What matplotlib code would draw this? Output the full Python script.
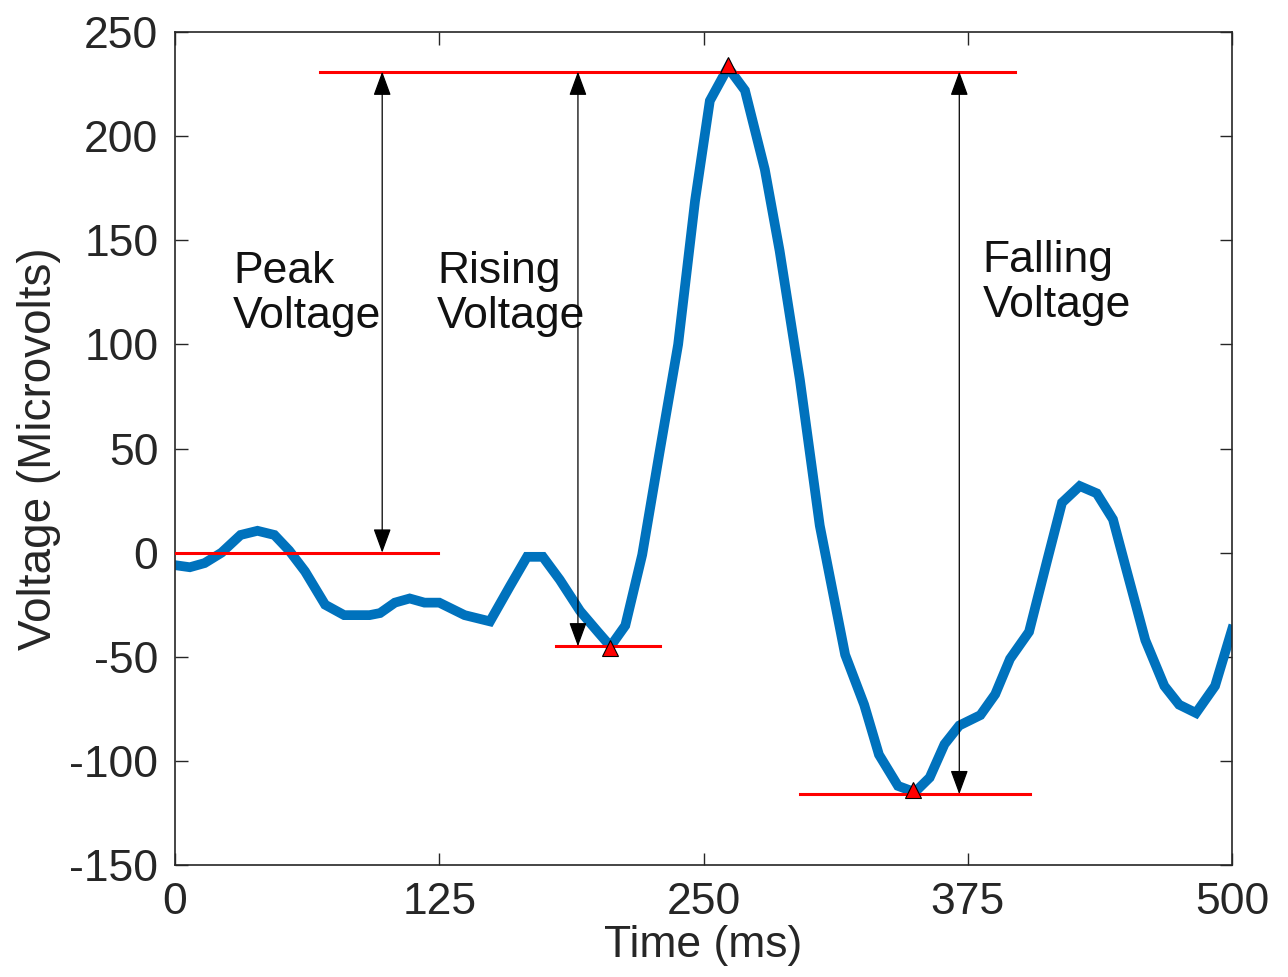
import numpy as np
import matplotlib
matplotlib.use("Agg")
from matplotlib import pyplot as plt

# waveform (time in ms, voltage in microvolts)
time_ms = [0, 7, 14, 22, 31, 39, 47, 54, 61.5, 71, 80, 92, 97, 104, 111, 118, 125,
           137, 149, 158.5, 166.5, 174, 182, 191.6, 200, 206, 213, 221, 229, 238,
           246, 253, 261.6, 269.6, 279, 286, 295.6, 305, 317, 326, 333, 342, 350,
           357, 364, 371, 381, 388, 395, 404, 412.5, 419.6, 428, 436, 443.7, 450,
           459, 468, 475, 483, 492, 500]
voltage = [-6, -7, -5, 0, 8.5, 10.5, 8.5, 1, -9, -25, -30, -30, -29, -24, -22, -24, -24,
           -30, -33, -16, -2, -2, -13, -28, -38, -45, -35, -1, 47, 100,
           169, 217, 233, 222, 184, 145, 83, 13, -49, -73, -97, -112, -115,
           -108, -92, -83, -78, -68, -51, -38, -4, 24, 32, 28.5, 16, -8,
           -42, -64, -73, -77, -64, -37]

# reference levels (x-start, x-end, level)
peak_level = 231
base_line = [0, 124.5, 0]
top_line = [68.6, 397.4, 231]
rise_line = [180, 229.4, -45]
fall_line = [295.6, 404.5, -116]

# marked extrema
mark_t = [205.8, 261.6, 349]
mark_v = [-46, 234, -114]

# arrows: x position, bottom level
arrow_x = [98, 190.6, 371]
arrow_low = [0, -45, -116]

labels = ["Peak\nVoltage", "Rising\nVoltage", "Falling\nVoltage"]
label_x = [27.4, 124, 382]
label_y = [145, 145, 150]

plt.rcParams['font.family'] = ['Liberation Sans', 'DejaVu Sans']
plt.rcParams['axes.unicode_minus'] = False

fig = plt.figure(figsize=(12.88, 9.77), dpi=100)
ax = fig.add_axes([0.1359, 0.1146, 0.8206, 0.8526])

ax.plot(time_ms, voltage, color='#0072BD', lw=7, solid_joinstyle='miter', zorder=2)

for seg in [base_line, top_line, rise_line, fall_line]:
    ax.plot([seg[0], seg[1]], [seg[2], seg[2]], color='red', lw=2.2, zorder=3)

ax.plot(mark_t, mark_v, linestyle='none', marker='^', markersize=11,
        markerfacecolor='red', markeredgecolor='black', markeredgewidth=0.8, zorder=4)

for xa, lo in zip(arrow_x, arrow_low):
    ax.annotate('', xy=(xa, lo), xytext=(xa, peak_level),
                arrowprops=dict(arrowstyle='<|-|>,head_length=1.5,head_width=0.55',
                                color='black', lw=0.9, shrinkA=0, shrinkB=0), zorder=5)

for t, xl, yl in zip(labels, label_x, label_y):
    ax.text(xl, yl, t, fontsize=32, va='top', ha='left', linespacing=1.12, color='#111111')

ax.set_xlim(0, 500)
ax.set_ylim(-150, 250)
ax.set_xticks([0, 125, 250, 375, 500])
ax.set_yticks(np.arange(-150, 251, 50))
ax.tick_params(direction='in', length=9, width=1, top=True, right=True,
               labelsize=32, pad=12, colors='#262626')
for sp in ax.spines.values():
    sp.set_color('#262626')
    sp.set_linewidth(1.2)

ax.set_xlabel('Time (ms)', fontsize=32, labelpad=2, color='#262626')
ax.set_ylabel('Voltage (Microvolts)', fontsize=33, labelpad=6, color='#262626')

fig.savefig('out.png', dpi=100)
